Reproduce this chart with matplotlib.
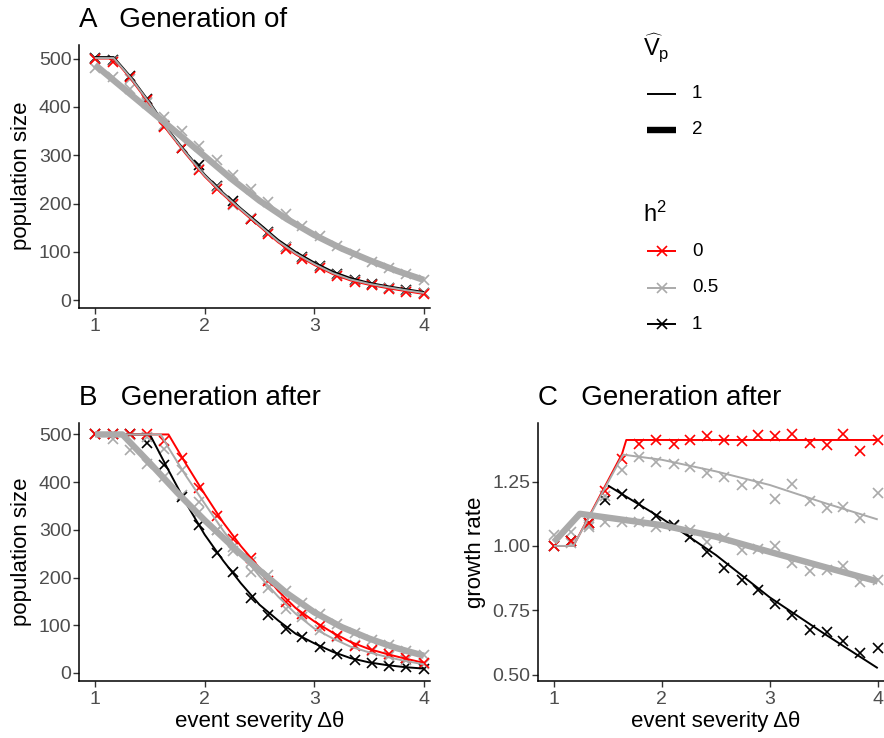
import matplotlib
matplotlib.use('Agg')
import matplotlib.pyplot as plt

plt.rcParams['font.family'] = ['Liberation Sans', 'DejaVu Sans']
plt.rcParams['mathtext.fontset'] = 'custom'
plt.rcParams['mathtext.rm'] = 'Liberation Sans'
plt.rcParams['mathtext.it'] = 'Liberation Sans:italic'

# ---------------- data ----------------
h2_levels = ['0', '0.5', '1']
vp_levels = ['1', '2']
h2_colors = {'0': '#FF0000', '0.5': '#AAAAAA', '1': '#000000'}

x_sim = [1.00, 1.16, 1.32, 1.47, 1.63, 1.79, 1.95, 2.11, 2.26, 2.42,
         2.58, 2.74, 2.89, 3.05, 3.21, 3.37, 3.53, 3.68, 3.84, 4.00]

# Panel A: generation of event -- simulations
A_sim_h0 = [500, 492, 461, 414, 359, 314, 269, 231, 200, 168, 138, 107, 86, 66, 50, 38, 31, 24, 17, 12]
A_sim_h05 = [500, 494, 458, 410, 362, 316, 272, 234, 198, 170, 140, 110, 88, 68, 52, 40, 32, 25, 19, 15]
A_sim_h1 = [502, 496, 463, 416, 361, 314, 280, 236, 205, 169, 142, 111, 90, 70, 54, 42, 33, 26, 21, 16]
A_sim_vp2 = [481, 462, 437, 408, 380, 350, 320, 290, 260, 230, 203, 178, 154, 132, 112, 95, 80, 66, 54, 42]
# Panel A: model lines
A_lx = [1.00, 1.17, 1.33, 1.50, 1.67, 1.83, 2.00, 2.17, 2.33, 2.50,
        2.67, 2.83, 3.00, 3.17, 3.33, 3.50, 3.67, 3.83, 4.00]
A_line_h0 = [500, 500, 457, 405, 348, 302, 256, 218, 186, 153, 120, 95, 73, 54, 41, 32, 25, 19, 13]
A_line_h05 = [501, 501, 459, 407, 350, 304, 258, 220, 188, 155, 122, 97, 75, 56, 43, 34, 27, 21, 15]
A_line_h1 = [503, 503, 461, 409, 352, 306, 260, 222, 190, 158, 125, 100, 78, 59, 46, 36, 29, 23, 17]
A_lx_vp2 = [1.00, 1.25, 1.50, 1.75, 2.00, 2.25, 2.50, 2.75, 3.00, 3.25, 3.50, 3.75, 4.00]
A_line_vp2 = [487, 440, 393, 346, 298, 250, 206, 168, 135, 107, 83, 61, 42]

# Panel B: generation after -- simulations
B_sim_h0 = [500, 500, 500, 500, 487, 450, 387, 330, 280, 240, 192, 148, 124, 99, 78, 57, 48, 40, 31, 20]
B_sim_h05 = [500, 500, 498, 495, 470, 425, 358, 300, 255, 212, 178, 134, 117, 89, 75, 58, 46, 36, 27, 19]
B_sim_h1 = [500, 500, 500, 483, 436, 369, 310, 251, 211, 158, 122, 93, 75, 55, 39, 27, 20, 15, 12, 8]
B_sim_vp2 = [500, 490, 467, 439, 410, 372, 338, 300, 265, 232, 205, 172, 146, 124, 103, 84, 70, 58, 45, 38]
# Panel B: model lines
B_lx_h0 = [1.00, 1.67, 1.83, 2.00, 2.17, 2.33, 2.50, 2.67, 2.83, 3.00, 3.17, 3.33, 3.50, 3.67, 3.83, 4.00]
B_line_h0 = [500, 500, 438, 375, 315, 266, 220, 172, 136, 108, 84, 65, 50, 39, 30, 21]
B_lx_h05 = [1.00, 1.60, 1.67, 1.83, 2.00, 2.17, 2.33, 2.50, 2.67, 2.83, 3.00, 3.17, 3.33, 3.50, 3.67, 3.83, 4.00]
B_line_h05 = [500, 500, 472, 413, 355, 298, 250, 203, 160, 124, 93, 72, 55, 43, 33, 25, 18]
B_lx_h1 = [1.00, 1.50, 1.67, 1.83, 2.00, 2.17, 2.33, 2.50, 2.67, 2.83, 3.00, 3.17, 3.33, 3.50, 3.67, 3.83, 4.00]
B_line_h1 = [500, 500, 425, 356, 290, 235, 188, 143, 110, 82, 62, 44, 31, 22, 16, 12, 9]
B_lx_vp2 = [1.00, 1.25, 1.50, 1.75, 2.00, 2.25, 2.50, 2.75, 3.00, 3.25, 3.50, 3.75, 4.00]
B_line_vp2 = [500, 500, 440, 378, 320, 266, 215, 167, 127, 96, 72, 52, 36]

# Panel C: growth rate -- simulations
C_sim_h0 = [1.000, 1.019, 1.088, 1.215, 1.337, 1.397, 1.412, 1.397, 1.412, 1.428,
            1.412, 1.408, 1.432, 1.428, 1.434, 1.402, 1.393, 1.434, 1.369, 1.410]
C_sim_h05 = [1.000, 1.010, 1.080, 1.195, 1.295, 1.345, 1.328, 1.317, 1.308, 1.282,
             1.267, 1.237, 1.241, 1.181, 1.241, 1.176, 1.146, 1.153, 1.107, 1.205]
C_sim_h1 = [1.000, 1.020, 1.090, 1.179, 1.202, 1.162, 1.118, 1.081, 1.036, 0.978,
            0.913, 0.867, 0.828, 0.776, 0.731, 0.675, 0.666, 0.631, 0.584, 0.604]
C_sim_vp2 = [1.043, 1.055, 1.075, 1.094, 1.094, 1.094, 1.075, 1.077, 1.062, 1.016,
             1.029, 0.984, 0.990, 1.000, 0.935, 0.902, 0.906, 0.922, 0.861, 0.867]
# Panel C: model lines
C_lx_h0 = [1.00, 1.18, 1.63, 1.67, 4.00]
C_line_h0 = [1.000, 1.000, 1.357, 1.412, 1.412]
C_lx_h05 = [1.00, 1.18, 1.64, 2.00, 2.50, 3.00, 3.50, 4.00]
C_line_h05 = [1.000, 1.000, 1.355, 1.335, 1.290, 1.237, 1.168, 1.103]
C_lx_h1 = [1.50, 2.00, 2.50, 3.00, 3.50, 4.00]
C_line_h1 = [1.235, 1.107, 0.965, 0.800, 0.660, 0.525]
C_lx_vp2 = [1.00, 1.24, 1.50, 2.00, 2.50, 3.00, 3.50, 4.00]
C_line_vp2 = [1.015, 1.125, 1.110, 1.081, 1.036, 0.977, 0.919, 0.862]

pop_ticks = [0, 100, 200, 300, 400, 500]
gr_ticks = [0.50, 0.75, 1.00, 1.25]
gr_ticklabels = ['0.50', '0.75', '1.00', '1.25']
x_ticks = [1, 2, 3, 4]

# ---------------- figure ----------------
W, H = 884, 738
fig = plt.figure(figsize=(W / 100, H / 100), dpi=100)


def px_axes(l, t, r, b):
    return fig.add_axes([l / W, 1 - b / H, (r - l) / W, (b - t) / H])


THIN, THICK = 1.4, 4.6
MS, MEW = 7, 1.2
GREY = h2_colors['0.5']


def style(ax):
    for s in ['top', 'right']:
        ax.spines[s].set_visible(False)
    for s in ['left', 'bottom']:
        ax.spines[s].set_linewidth(1.1)
        ax.spines[s].set_color('black')
    ax.tick_params(length=4, width=1.0, color='#333333', labelcolor='#4D4D4D',
                   labelsize=14, pad=1.5)
    ax.tick_params(axis='x', pad=3.5)
    ax.set_xticks(x_ticks)


def draw_panel(ax, sims, lines):
    # sims: list of (x, y, color); lines: list of (x, y, color, lw, z)
    for x, y, c in sims:
        ax.plot(x, y, linestyle='none', marker='x', ms=MS, mew=MEW, color=c, zorder=2)
    for x, y, c, lw, z in lines:
        ax.plot(x, y, color=c, lw=lw, zorder=z, solid_capstyle='butt')


axA = px_axes(79, 45, 430, 308)
draw_panel(axA,
           [(x_sim, A_sim_vp2, GREY), (x_sim, A_sim_h1, h2_colors['1']),
            (x_sim, A_sim_h05, GREY), (x_sim, A_sim_h0, h2_colors['0'])],
           [(A_lx, A_line_h0, h2_colors['0'], THIN, 3.0),
            (A_lx, A_line_h1, h2_colors['1'], THIN, 3.1),
            (A_lx, A_line_h05, GREY, THIN, 3.2),
            (A_lx_vp2, A_line_vp2, GREY, THICK, 3.5)])
axA.set_xlim(0.854, 4.055)
axA.set_ylim(-16, 528)
axA.set_yticks(pop_ticks)
style(axA)

axB = px_axes(79, 423, 430, 681)
draw_panel(axB,
           [(x_sim, B_sim_vp2, GREY), (x_sim, B_sim_h1, h2_colors['1']),
            (x_sim, B_sim_h05, GREY), (x_sim, B_sim_h0, h2_colors['0'])],
           [(B_lx_h1, B_line_h1, h2_colors['1'], THIN, 3.0),
            (B_lx_h0, B_line_h0, h2_colors['0'], THIN, 3.1),
            (B_lx_h05, B_line_h05, GREY, THIN, 3.2),
            (B_lx_vp2, B_line_vp2, GREY, THICK, 3.5)])
axB.set_xlim(0.854, 4.055)
axB.set_ylim(-17, 524)
axB.set_yticks(pop_ticks)
style(axB)

axC = px_axes(538, 423, 884, 681)
draw_panel(axC,
           [(x_sim, C_sim_vp2, GREY), (x_sim, C_sim_h1, h2_colors['1']),
            (x_sim, C_sim_h05, GREY), (x_sim, C_sim_h0, h2_colors['0'])],
           [(C_lx_h1, C_line_h1, h2_colors['1'], THIN, 3.0),
            (C_lx_h0, C_line_h0, h2_colors['0'], THIN, 3.1),
            (C_lx_h05, C_line_h05, GREY, THIN, 3.2),
            (C_lx_vp2, C_line_vp2, GREY, THICK, 3.5)])
axC.set_xlim(0.852, 4.058)
axC.set_ylim(0.475, 1.478)
axC.set_yticks(gr_ticks)
axC.set_yticklabels(gr_ticklabels)
style(axC)

# titles
fig.text(79 / W, 1 - 27 / H, 'A   Generation of', fontsize=20, va='baseline', ha='left')
fig.text(79 / W, 1 - 405 / H, 'B   Generation after', fontsize=20, va='baseline', ha='left')
fig.text(538 / W, 1 - 405 / H, 'C   Generation after', fontsize=20, va='baseline', ha='left')

# axis titles
fig.text(21.5 / W, 1 - 176 / H, 'population size', rotation=90, fontsize=16, ha='center', va='center')
fig.text(21.5 / W, 1 - 552 / H, 'population size', rotation=90, fontsize=16, ha='center', va='center')
fig.text(475 / W, 1 - 552 / H, 'growth rate', rotation=90, fontsize=16, ha='center', va='center')
fig.text(259.7 / W, 1 - 727 / H, 'event severity Δθ', fontsize=16, ha='center', va='baseline')
fig.text(716 / W, 1 - 727 / H, 'event severity Δθ', fontsize=16, ha='center', va='baseline')

# legends (drawn in pixel space)
lg = fig.add_axes([0, 0, 1, 1])
lg.set_xlim(0, W)
lg.set_ylim(H, 0)
lg.axis('off')
lg.patch.set_alpha(0)

lg.text(643, 56, r'$\widehat{\mathrm{V}}_{\mathrm{p}}$', fontsize=17, va='baseline', ha='left')
for yy, lab, lw in [(94, vp_levels[0], THIN), (130, vp_levels[1], THICK)]:
    lg.plot([647, 676], [yy, yy], color='black', lw=lw, solid_capstyle='butt')
    lg.text(692, yy, lab, fontsize=13.5, va='center', ha='left')

lg.text(643, 222, r'h$^{2}$', fontsize=17, va='baseline', ha='left')
for yy, lab in zip([251, 287.7, 324.3], h2_levels):
    c = h2_colors[lab]
    lg.plot([647, 676], [yy, yy], color=c, lw=THIN, solid_capstyle='butt')
    lg.plot([661.5], [yy], marker='x', ms=MS, mew=MEW, color=c, linestyle='none')
    lg.text(692, yy, lab, fontsize=13.5, va='center', ha='left')

fig.savefig('out.png', dpi=100)
